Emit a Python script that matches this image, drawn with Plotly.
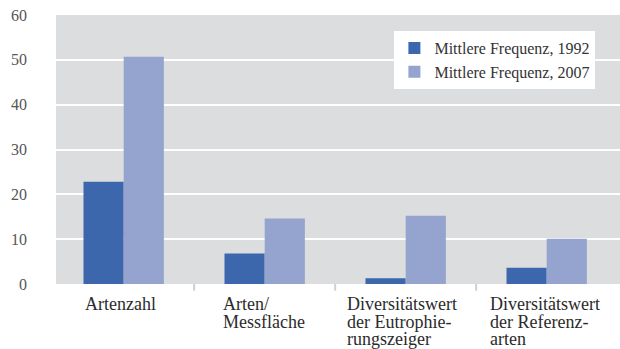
import plotly.graph_objects as go

# Kategorien (Zeilen der Achsenbeschriftung) und Werte
categories = ["Artenzahl", "Arten/Messfläche",
              "Diversitätswert der Eutrophierungszeiger",
              "Diversitätswert der Referenzarten"]
category_lines = [["Artenzahl"],
                  ["Arten/", "Messfläche"],
                  ["Diversitätswert", "der Eutrophie-", "rungszeiger"],
                  ["Diversitätswert", "der Referenz-", "arten"]]
freq_1992 = [22.8, 6.8, 1.3, 3.6]
freq_2007 = [50.7, 14.6, 15.2, 10.1]
series_names = ["Mittlere Frequenz, 1992", "Mittlere Frequenz, 2007"]
y_ticks = [0, 10, 20, 30, 40, 50, 60]

FONT = "Liberation Serif"
DARK = "#3d67ac"
LIGHT = "#95a4ce"

fig = go.Figure()
fig.add_trace(go.Bar(x=categories, y=freq_1992, name=series_names[0],
                     marker=dict(color=DARK, line=dict(width=0))))
fig.add_trace(go.Bar(x=categories, y=freq_2007, name=series_names[1],
                     marker=dict(color=LIGHT, line=dict(width=0))))

# Mehrzeilige, linksbündige Kategoriebeschriftungen mit engem Zeilenabstand
block_widths = [80, 86, 120, 116]
for i, lines in enumerate(category_lines):
    for j, line in enumerate(lines):
        fig.add_annotation(
            x=categories[i], xref="x", xanchor="left",
            xshift=-block_widths[i] / 2,
            y=0, yref="paper", yanchor="top", yshift=-9 - 17.5 * j,
            text=line, showarrow=False, align="left", borderpad=0,
            font=dict(family=FONT, size=18, color="#2b2b2b"),
        )

# Trennstriche zwischen den Kategorien unterhalb der Achse
for i in range(len(categories) - 1):
    fig.add_shape(type="line", xref="x", yref="paper",
                  x0=i + 0.5, x1=i + 0.5, y0=0, y1=-0.025,
                  line=dict(color="#d0d0d0", width=2))

fig.update_layout(
    width=620, height=349,
    margin=dict(l=56, r=0, t=15, b=65),
    paper_bgcolor="white",
    plot_bgcolor="#dcdddf",
    barmode="group",
    bargap=0.43,
    bargroupgap=0,
    font=dict(family=FONT, size=16, color="#333333"),
    showlegend=True,
    legend=dict(
        x=0.60, y=0.94, xanchor="left", yanchor="top",
        bgcolor="white", borderwidth=0,
        font=dict(family=FONT, size=16, color="#333333"),
        tracegroupgap=0, itemwidth=30,
    ),
    xaxis=dict(showticklabels=False, ticks="", showgrid=False,
               showline=False, zeroline=False, range=[-0.48, 3.52]),
    yaxis=dict(range=[0, 60], tickvals=y_ticks, showgrid=True,
               gridcolor="white", gridwidth=2, zeroline=False,
               showline=False, ticks="",
               ticklabelstandoff=28,
               tickfont=dict(family=FONT, size=16, color="#555555")),
)

fig.write_html("out.html")
